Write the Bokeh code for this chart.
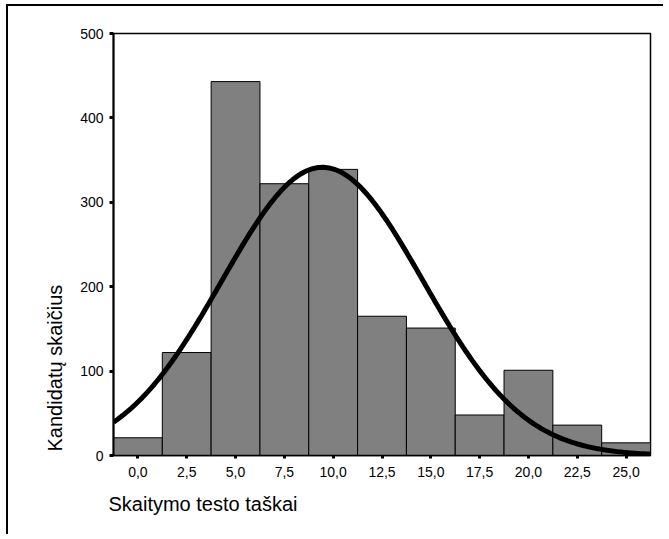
import numpy as np
from bokeh.plotting import figure
from bokeh.models import FixedTicker, Title, ColumnDataSource
from bokeh.embed import file_html
from bokeh.resources import INLINE

# ---- data ----
bin_centers = [0.0, 2.5, 5.0, 7.5, 10.0, 12.5, 15.0, 17.5, 20.0, 22.5, 25.0]
counts = [21, 122, 443, 322, 339, 165, 151, 48, 101, 36, 15]
x_tick_labels = ["0,0", "2,5", "5,0", "7,5", "10,0", "12,5", "15,0", "17,5", "20,0", "22,5", "25,0"]
y_ticks = [0, 100, 200, 300, 400, 500]
bin_width = 2.5
fit_mean = 9.45
fit_sd = 5.15
x_title = "Skaitymo testo taškai"
y_title = "Kandidatų skaičius"

FONT = "Liberation Sans"

n_total = sum(counts)
lefts = [c - bin_width / 2 for c in bin_centers]
rights = [c + bin_width / 2 for c in bin_centers]
src = ColumnDataSource(dict(left=lefts, right=rights, top=counts, bottom=[0] * len(counts)))

x_lo = bin_centers[0] - bin_width / 2
x_hi = bin_centers[-1] + bin_width / 2

p = figure(width=657, height=530, output_backend="svg", toolbar_location=None,
           x_range=(x_lo, x_hi), y_range=(y_ticks[0], y_ticks[-1]),
           min_border_left=105, min_border_right=15, min_border_top=27, min_border_bottom=81)
p.styles = {"border-left": "2px solid black", "border-top": "2px solid black",
            "margin-left": "6px", "margin-top": "4px"}

p.quad(left="left", right="right", top="top", bottom="bottom", source=src,
       fill_color="#808080", line_color="black", line_width=1)

# fitted normal curve
xs = np.linspace(x_lo, x_hi, 300)
ys = n_total * bin_width / (fit_sd * np.sqrt(2 * np.pi)) * np.exp(-0.5 * ((xs - fit_mean) / fit_sd) ** 2)
p.line(xs, ys, line_color="black", line_width=5)

p.grid.visible = False
p.outline_line_color = "black"
p.outline_line_width = 1.5
p.outline_line_alpha = 1.0
p.background_fill_color = "white"
p.border_fill_color = "white"

# y axis
ya = p.yaxis[0]
ya.ticker = FixedTicker(ticks=y_ticks)
ya.axis_line_width = 2
ya.major_tick_out = 4
ya.major_tick_in = 0
ya.major_tick_line_width = 3
ya.minor_tick_line_color = None
ya.major_label_standoff = 6
ya.major_label_text_font = FONT
ya.major_label_text_font_size = "14px"
ya.major_label_text_color = "black"

# x axis
xa = p.xaxis[0]
xa.ticker = FixedTicker(ticks=bin_centers)
xa.major_label_overrides = {c: lab for c, lab in zip(bin_centers, x_tick_labels)}
xa.axis_line_width = 1.5
xa.major_tick_out = 3
xa.major_tick_in = 0
xa.major_tick_line_width = 3
xa.minor_tick_line_color = None
xa.major_label_standoff = 8
xa.major_label_text_font = FONT
xa.major_label_text_font_size = "14px"
xa.major_label_text_color = "black"

p.add_layout(Title(text=x_title, align="left", offset=-5, standoff=22,
                   text_font=FONT, text_font_size="20px", text_font_style="normal",
                   text_color="black"), "below")
p.add_layout(Title(text=y_title, align="left", offset=4, standoff=23,
                   text_font=FONT, text_font_size="20px", text_font_style="normal",
                   text_color="black"), "left")

open("out.html", "w").write(file_html(p, INLINE))
